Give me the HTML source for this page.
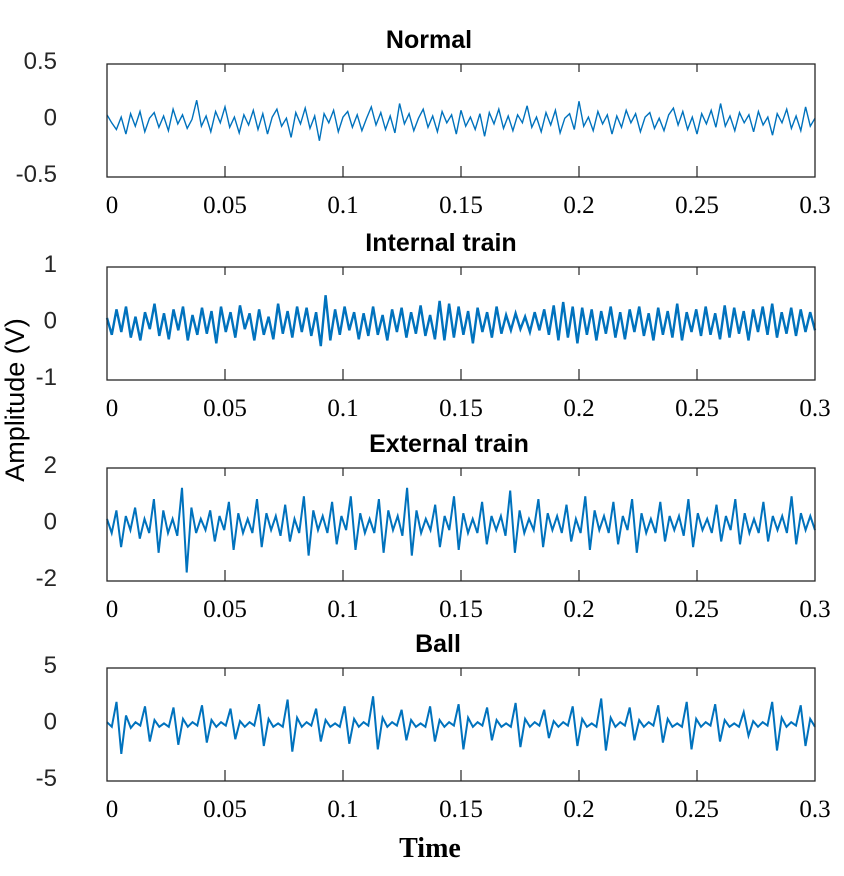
<!DOCTYPE html>
<html><head><meta charset="utf-8"><style>
html,body{margin:0;padding:0;background:#fff;}
svg{display:block;}
.yt{font-family:"Liberation Sans",sans-serif;font-size:24px;fill:#262626;text-anchor:end;}
.xt{font-family:"Liberation Serif",serif;font-size:25px;fill:#000;text-anchor:middle;}
.ti{font-family:"Liberation Sans",sans-serif;font-size:25px;font-weight:bold;fill:#000;text-anchor:middle;}
</style></head><body>
<svg id="chart" width="844" height="876" viewBox="0 0 844 876">
<text x="24" y="400" transform="rotate(-90 24 400)" font-family="Liberation Sans,sans-serif" font-size="27" text-anchor="middle" fill="#000">Amplitude (V)</text>
<text x="430" y="857" font-family="Liberation Serif,serif" font-size="28" font-weight="bold" text-anchor="middle" fill="#000">Time</text>
</svg>
<script>
const titles = ["Normal","Internal train","External train","Ball"];
const xTicks = [0,0.05,0.1,0.15,0.2,0.25,0.3];
const xTickLabels = ["0","0.05","0.1","0.15","0.2","0.25","0.3"];
const yTicks1 = [0.5,0,-0.5];
const yTicks2 = [1,0,-1];
const yTicks3 = [2,0,-2];
const yTicks4 = [5,0,-5];
const normal = [0.05,-0.02,-0.08,0.03,-0.12,0.06,-0.05,0.08,-0.1,0.02,0.07,-0.06,0.04,-0.09,0.1,-0.03,0.05,-0.07,0.01,0.18,-0.05,0.04,-0.1,0.08,-0.02,0.12,-0.06,0.03,-0.11,0.05,-0.04,0.09,-0.08,0.06,-0.12,0.03,0.1,-0.05,0.02,-0.15,0.07,-0.03,0.11,-0.07,0.04,-0.18,0.06,-0.02,0.09,-0.1,0.03,0.08,-0.06,0.05,-0.09,0.02,0.12,-0.04,0.07,-0.08,0.04,-0.11,0.15,-0.03,0.06,-0.09,0.02,0.1,-0.06,0.04,-0.1,0.08,-0.02,0.05,-0.12,0.09,-0.05,0.03,-0.08,0.06,-0.14,0.07,-0.03,0.1,-0.07,0.04,-0.09,0.05,-0.02,0.13,-0.06,0.03,-0.1,0.07,-0.04,0.09,-0.11,0.02,0.06,-0.08,0.17,-0.05,0.03,-0.09,0.08,-0.03,0.05,-0.12,0.04,-0.06,0.09,-0.02,0.06,-0.1,0.03,0.07,-0.07,0.02,-0.09,0.05,0.11,-0.04,0.08,-0.08,0.03,-0.12,0.06,-0.03,0.09,-0.06,0.15,-0.05,0.04,-0.09,0.07,-0.02,0.05,-0.1,0.08,-0.04,0.03,-0.13,0.06,-0.02,0.1,-0.07,0.04,-0.09,0.12,-0.05,0.02];
const inner = [0.1,-0.2,0.25,-0.15,0.3,-0.25,0.12,-0.3,0.2,-0.1,0.35,-0.22,0.18,-0.28,0.25,-0.12,0.3,-0.3,0.15,-0.2,0.28,-0.18,0.22,-0.35,0.3,-0.15,0.2,-0.25,0.32,-0.1,0.18,-0.3,0.25,-0.2,0.12,-0.28,0.35,-0.18,0.22,-0.25,0.3,-0.15,0.28,-0.22,0.2,-0.4,0.5,-0.3,0.25,-0.2,0.3,-0.12,0.2,-0.28,0.18,-0.22,0.3,-0.2,0.15,-0.3,0.25,-0.15,0.28,-0.25,0.2,-0.18,0.32,-0.22,0.15,-0.28,0.4,-0.3,0.35,-0.25,0.3,-0.2,0.22,-0.35,0.28,-0.15,0.2,-0.25,0.3,-0.18,0.15,-0.12,0.18,-0.1,0.12,-0.15,0.2,-0.12,0.25,-0.2,0.32,-0.3,0.38,-0.25,0.3,-0.35,0.28,-0.2,0.25,-0.3,0.22,-0.18,0.3,-0.25,0.2,-0.28,0.25,-0.15,0.3,-0.22,0.18,-0.3,0.28,-0.2,0.22,-0.25,0.35,-0.3,0.2,-0.15,0.25,-0.22,0.3,-0.2,0.18,-0.28,0.32,-0.25,0.28,-0.18,0.22,-0.3,0.25,-0.15,0.3,-0.2,0.35,-0.25,0.2,-0.18,0.28,-0.22,0.25,-0.15,0.2,-0.12];
const outer = [0.2,-0.3,0.5,-0.8,0.3,-0.2,0.6,-0.5,0.2,-0.3,0.9,-1.0,0.5,-0.3,0.2,-0.4,1.3,-1.7,0.6,-0.3,0.2,-0.2,0.5,-0.6,0.3,-0.2,0.8,-0.9,0.4,-0.3,0.2,-0.3,0.9,-0.8,0.4,-0.2,0.3,-0.4,0.7,-0.6,0.2,-0.3,1.0,-1.1,0.5,-0.2,0.3,-0.3,0.8,-0.7,0.3,-0.2,1.0,-0.9,0.4,-0.3,0.2,-0.3,0.9,-1.0,0.5,-0.2,0.3,-0.4,1.3,-1.1,0.5,-0.3,0.2,-0.2,0.7,-0.8,0.3,-0.2,1.0,-0.9,0.4,-0.3,0.2,-0.3,0.8,-0.7,0.3,-0.2,0.3,-0.4,1.2,-1.0,0.5,-0.3,0.2,-0.2,0.9,-0.8,0.4,-0.2,0.3,-0.3,0.7,-0.6,0.2,-0.3,1.0,-0.9,0.5,-0.2,0.3,-0.3,0.8,-0.7,0.3,-0.2,0.9,-1.0,0.4,-0.3,0.2,-0.3,0.8,-0.6,0.3,-0.2,0.3,-0.4,0.9,-0.8,0.4,-0.2,0.2,-0.3,0.7,-0.6,0.3,-0.2,0.9,-0.7,0.4,-0.3,0.2,-0.3,0.8,-0.6,0.3,-0.2,0.3,-0.3,1.0,-0.7,0.4,-0.2,0.3,-0.2];
const ball = [0.2,-0.2,2.0,-2.6,0.8,-0.3,0.2,-0.1,1.6,-1.5,0.4,-0.2,0.1,-0.2,1.5,-1.8,0.5,-0.2,0.2,-0.1,1.7,-1.6,0.4,-0.2,0.2,-0.1,1.4,-1.3,0.3,-0.2,0.2,-0.1,1.8,-1.9,0.5,-0.2,0.1,-0.2,2.2,-2.4,0.6,-0.2,0.2,-0.1,1.4,-1.5,0.4,-0.2,0.1,-0.2,1.6,-1.7,0.5,-0.2,0.2,-0.1,2.5,-2.2,0.6,-0.2,0.2,-0.1,1.3,-1.4,0.4,-0.2,0.1,-0.2,1.6,-1.5,0.4,-0.2,0.2,-0.1,1.8,-2.2,0.6,-0.2,0.2,-0.1,1.5,-1.4,0.4,-0.2,0.1,-0.2,1.9,-2.0,0.5,-0.2,0.2,-0.1,1.3,-1.2,0.3,-0.2,0.2,-0.1,1.6,-1.9,0.5,-0.2,0.1,-0.2,2.3,-2.3,0.6,-0.2,0.2,-0.1,1.5,-1.4,0.4,-0.2,0.2,-0.1,1.7,-1.6,0.5,-0.2,0.1,-0.2,2.0,-2.2,0.5,-0.2,0.2,-0.1,1.8,-1.5,0.4,-0.2,0.1,-0.2,1.1,-1.0,0.3,-0.2,0.2,-0.1,2.0,-2.3,0.6,-0.2,0.2,-0.1,1.7,-1.9,0.5,-0.2];
const seriesList = [normal, inner, outer, ball];
const yTickSets = [yTicks1, yTicks2, yTicks3, yTicks4];
const yMaxes = [0.5, 1, 2, 5];
const strokeWidths = [1.4, 2.4, 2.0, 2.0];
const titleX = [429, 441, 449, 438];

const NS = "http://www.w3.org/2000/svg";
const svg = document.getElementById("chart");
const X0 = 107, X1 = 815, PH = 113;
const tops = [64, 267, 468, 668];
const tMax = 0.3;
function xScale(t){ return X0 + (t / tMax) * (X1 - X0); }
function mk(tag, attrs){ const e = document.createElementNS(NS, tag); for (const k in attrs) e.setAttribute(k, attrs[k]); return e; }

seriesList.forEach(function(data, p){
  const top = tops[p], ym = yMaxes[p];
  function yScale(v){ return top + PH/2 - (v / ym) * (PH/2); }
  const g = mk("g", {});
  
  
  svg.appendChild(g);
  const title = mk("text", {x: titleX[p], y: top - 16, class: "ti"});
  title.textContent = titles[p];
  
  
  g.appendChild(title);
  const pts = data.map(function(v, i){ return xScale(i / (data.length - 1) * tMax).toFixed(1) + "," + yScale(v).toFixed(1); }).join(" ");
  const line = mk("polyline", {points: pts, fill: "none", stroke: "#0072BD", "stroke-width": strokeWidths[p]});
  
  
  g.appendChild(line);
  const box = mk("rect", {x: X0, y: top, width: X1 - X0, height: PH, fill: "none", stroke: "#262626", "stroke-width": 1.3});
  
  
  g.appendChild(box);
  xTicks.forEach(function(t, i){
    const x = xScale(t);
    if (i > 0 && i < xTicks.length - 1) {
      g.appendChild(mk("line", {x1: x, x2: x, y1: top, y2: top + 8, stroke: "#262626", "stroke-width": 1.2}));
      g.appendChild(mk("line", {x1: x, x2: x, y1: top + PH, y2: top + PH - 11, stroke: "#262626", "stroke-width": 1.2}));
    }
    const lab = mk("text", {x: i === 0 ? x + 5 : x, y: top + PH + 36, class: "xt"});
    lab.textContent = xTickLabels[i];
    
    
    g.appendChild(lab);
  });
  yTickSets[p].forEach(function(v){
    const lab = mk("text", {x: 57, y: yScale(v) + 5, class: "yt"});
    lab.textContent = String(v);
    
    
    g.appendChild(lab);
  });
});
</script>
</body></html>
